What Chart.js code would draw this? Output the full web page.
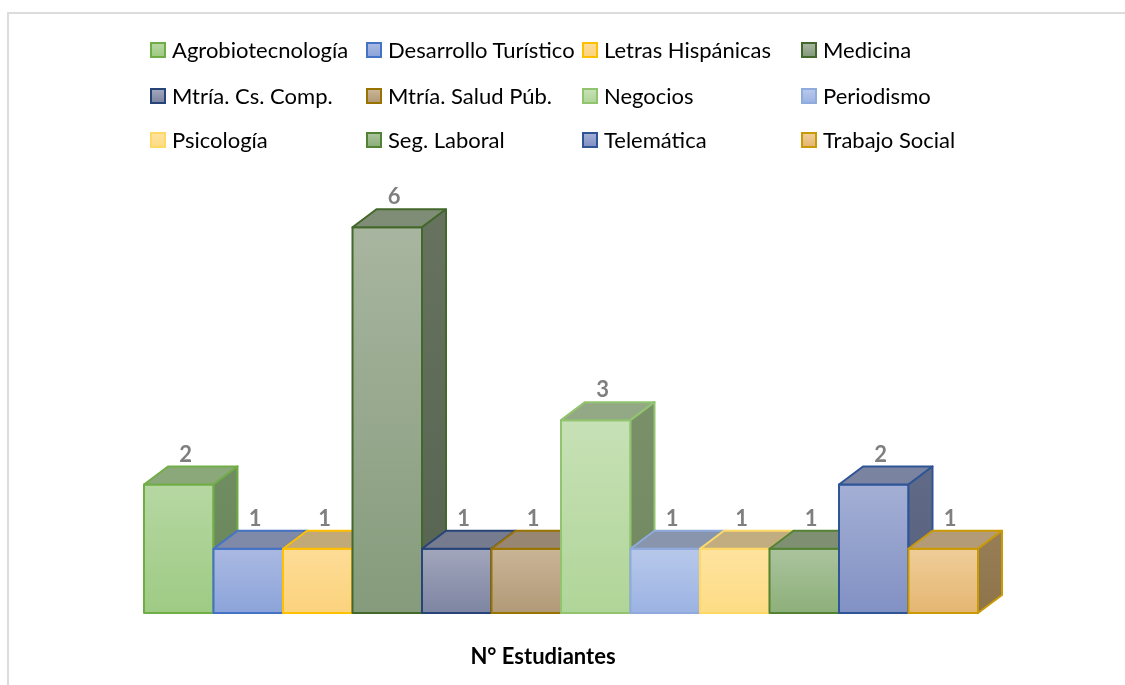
<!DOCTYPE html>
<html>
<head>
<meta charset="utf-8">
<script src="https://cdn.jsdelivr.net/npm/chart.js@4.4.1/dist/chart.umd.min.js"></script>
<style>
  html, body { margin: 0; padding: 0; background: #ffffff; overflow: hidden; }
  #wrap { position: relative; width: 1125px; height: 685px; overflow: hidden; }
  #frame { position: absolute; left: 7px; top: 12px; width: 1300px; height: 900px;
           border: 2px solid #dcdcdc; box-sizing: border-box; }
  #chart { position: absolute; left: 0; top: 0; }
  .lg { position: absolute; display: flex; align-items: center; white-space: nowrap;
        font-family: Lato, "Liberation Sans", sans-serif; font-size: 22px; color: #000; line-height: 1; }
  .lg .bx { width: 12px; height: 12px; border: 2px solid; margin-right: 6px; flex: none; }
</style>
</head>
<body>
<div id="wrap">
  <div id="frame"></div>
  <canvas id="chart" width="1125" height="685"></canvas>
  <div id="legend"></div>
</div>
<script>
// ---- data ----
const categories = ['N° Estudiantes'];
const programs = ['Agrobiotecnología', 'Desarrollo Turístico', 'Letras Hispánicas', 'Medicina',
                  'Mtría. Cs. Comp.', 'Mtría. Salud Púb.', 'Negocios', 'Periodismo',
                  'Psicología', 'Seg. Laboral', 'Telemática', 'Trabajo Social'];
const students = [2, 1, 1, 6, 1, 1, 3, 1, 1, 1, 2, 1];

// ---- styles (front top, front bottom, top face, side top, side bottom, border) ----
const faceColors = [
  ['#b6d7a2', '#9ecb84', '#8aa87a', '#718d62', '#67865a', '#70ad47'],
  ['#aab9e2', '#8ca4da', '#7f8aa8', '#66728f', '#5c6886', '#4472c4'],
  ['#fddc96', '#fcd37e', '#c1a978', '#a08a5c', '#978152', '#ffc000'],
  ['#a8b5a0', '#859b7b', '#7f8c76', '#67735f', '#556350', '#43682b'],
  ['#a2a6bc', '#7e85a2', '#767b90', '#5f6479', '#52586c', '#264478'],
  ['#c9b496', '#b29a78', '#978672', '#7f6d57', '#74624c', '#997300'],
  ['#c7e1b6', '#b0d598', '#93a885', '#7a9069', '#70885f', '#92c36f'],
  ['#b7c8ea', '#9cb3e3', '#8895ad', '#707d97', '#67748e', '#8faadc'],
  ['#fee39f', '#fedc85', '#c1ad80', '#a2906a', '#998761', '#ffd966'],
  ['#abc39d', '#8db07a', '#7e9071', '#66785b', '#5c7052', '#548235'],
  ['#a3afd4', '#8291c4', '#7a84a0', '#616a87', '#56607d', '#2f5597'],
  ['#efcd98', '#e5b672', '#b49b77', '#987e56', '#8d744b', '#c99a06']
];
const DEPTH_X = 24, DEPTH_Y = 18;
const FONT = 'Lato, "Liberation Sans", sans-serif';

// ---- HTML legend (4 columns x 3 rows) ----
const legendCols = [150, 366, 582, 801];
const legendRows = [50, 96, 140];
const legendEl = document.getElementById('legend');
programs.forEach((p, i) => {
  const d = document.createElement('div');
  d.className = 'lg';
  d.style.left = legendCols[i % 4] + 'px';
  d.style.top = (legendRows[Math.floor(i / 4)] - 11) + 'px';
  d.style.height = '22px';
  const b = document.createElement('span');
  b.className = 'bx';
  b.style.background = 'linear-gradient(' + faceColors[i][0] + ',' + faceColors[i][1] + ')';
  b.style.borderColor = faceColors[i][5];
  const t = document.createElement('span');
  t.textContent = p;
  d.appendChild(b); d.appendChild(t);
  legendEl.appendChild(d);
});

// ---- 3D bar plugin ----
const bars3d = {
  id: 'bars3d',
  afterDatasetsDraw(chart) {
    const ctx = chart.ctx;
    ctx.save();
    chart.data.datasets.forEach((ds, i) => {
      const meta = chart.getDatasetMeta(i);
      if (meta.hidden) return;
      meta.data.forEach((el) => {
        const c = faceColors[i];
        const w = el.width;
        const L = el.x - w / 2, R = el.x + w / 2, T = el.y, B = el.base;
        ctx.lineJoin = 'round';
        ctx.lineWidth = 2;
        ctx.strokeStyle = c[5];
        // front
        let g = ctx.createLinearGradient(0, T, 0, B);
        g.addColorStop(0, c[0]); g.addColorStop(1, c[1]);
        ctx.fillStyle = g;
        ctx.beginPath(); ctx.rect(L, T, w, B - T); ctx.fill(); ctx.stroke();
        // top face
        ctx.fillStyle = c[2];
        ctx.beginPath();
        ctx.moveTo(L, T); ctx.lineTo(R, T); ctx.lineTo(R + DEPTH_X, T - DEPTH_Y); ctx.lineTo(L + DEPTH_X, T - DEPTH_Y);
        ctx.closePath(); ctx.fill(); ctx.stroke();
        // side face
        g = ctx.createLinearGradient(0, T - DEPTH_Y, 0, B);
        g.addColorStop(0, c[3]); g.addColorStop(1, c[4]);
        ctx.fillStyle = g;
        ctx.beginPath();
        ctx.moveTo(R, T); ctx.lineTo(R + DEPTH_X, T - DEPTH_Y); ctx.lineTo(R + DEPTH_X, B - DEPTH_Y); ctx.lineTo(R, B);
        ctx.closePath(); ctx.fill(); ctx.stroke();
      });
    });
    // value labels
    ctx.fillStyle = '#7f7f7f';
    ctx.font = 'bold 22px ' + FONT;
    ctx.textAlign = 'center';
    ctx.textBaseline = 'middle';
    chart.data.datasets.forEach((ds, i) => {
      const meta = chart.getDatasetMeta(i);
      meta.data.forEach((el, j) => {
        ctx.fillText(String(ds.data[j]), el.x + 7, el.y - DEPTH_Y - 12);
      });
    });
    ctx.restore();
  }
};

new Chart(document.getElementById('chart'), {
  type: 'bar',
  data: {
    labels: categories,
    datasets: programs.map((p, i) => ({
      label: p,
      data: [students[i]],
      backgroundColor: faceColors[i][0],
      borderColor: faceColors[i][5],
      borderWidth: 2,
      categoryPercentage: 1.0,
      barPercentage: 1.0
    }))
  },
  options: {
    responsive: false,
    animation: false,
    devicePixelRatio: 1,
    layout: { padding: { left: 144, right: 147, top: 163, bottom: 14 } },
    scales: {
      x: {
        grid: { display: false, drawTicks: false },
        border: { display: false },
        ticks: { color: '#000', font: { family: FONT, size: 22, weight: 'bold' }, padding: 31, labelOffset: -18 },
        afterFit(scale) { scale.height = 58; }
      },
      y: { display: false, min: 0, max: 7 }
    },
    plugins: {
      legend: { display: false },
      tooltip: { enabled: false }
    }
  },
  plugins: [bars3d]
});
</script>
</body>
</html>
